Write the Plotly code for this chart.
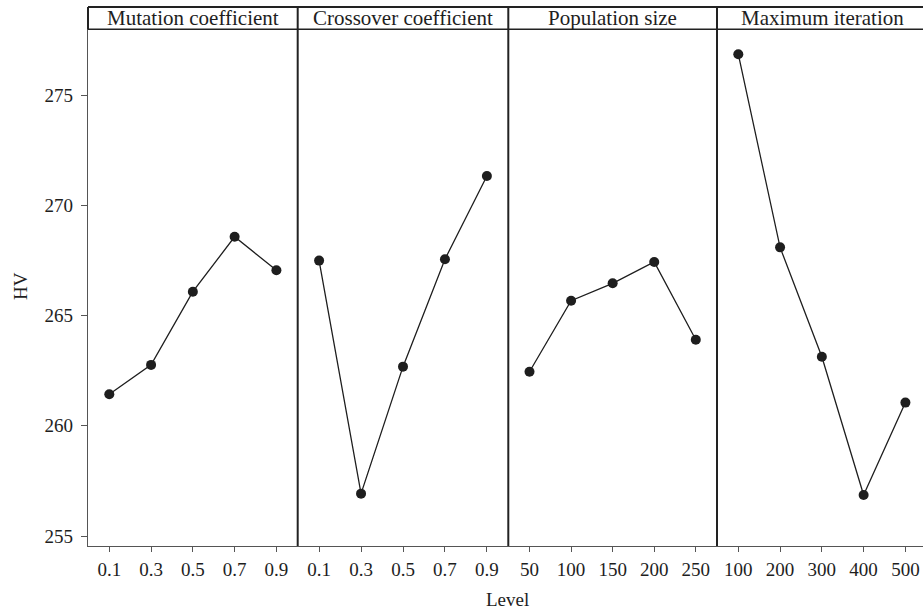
import plotly.graph_objects as go

# ---- data ----
titles = ["Mutation coefficient", "Crossover coefficient", "Population size", "Maximum iteration"]
levels_mut = ["0.1", "0.3", "0.5", "0.7", "0.9"]
hv_mut = [261.43, 262.76, 266.08, 268.57, 267.05]
levels_cross = ["0.1", "0.3", "0.5", "0.7", "0.9"]
hv_cross = [267.49, 256.92, 262.68, 267.55, 271.33]
levels_pop = ["50", "100", "150", "200", "250"]
hv_pop = [262.45, 265.67, 266.46, 267.43, 263.90]
levels_iter = ["100", "200", "300", "400", "500"]
hv_iter = [276.85, 268.09, 263.13, 256.86, 261.05]
y_ticks = [255, 260, 265, 270, 275]

# ---- layout geometry (pixels) ----
W, H = 923, 612
L, R, T, B = 88, 923, 7, 546
STRIP_B = 29.3
edges = [88, 297.7, 508.3, 717, 923]
PAD = 0.51


def px2x(px):
    return (px - L) / (R - L)


def px2y(py):
    return (B - py) / (B - T)


FONT = "Liberation Serif"
INK = "#1e1e1e"
AX = "#555555"

series = [(levels_mut, hv_mut), (levels_cross, hv_cross), (levels_pop, hv_pop), (levels_iter, hv_iter)]

fig = go.Figure()
for i, (lv, hv) in enumerate(series):
    xa = "x" if i == 0 else f"x{i+1}"
    fig.add_trace(go.Scatter(
        x=lv, y=hv, xaxis=xa, yaxis="y", mode="lines+markers",
        line=dict(color=INK, width=1.3),
        marker=dict(color=INK, size=10),
        showlegend=False, hoverinfo="skip"))

y_lo = 255 - (B - 536) / 22.05
y_hi = 275 + (95 - STRIP_B) / 22.05

layout = dict(
    width=W, height=H,
    margin=dict(l=L, r=W - R, t=T, b=H - B, pad=0),
    paper_bgcolor="white", plot_bgcolor="white",
    font=dict(family=FONT, color=INK, size=19),
    yaxis=dict(domain=[0, px2y(STRIP_B)], range=[y_lo, y_hi],
               tickvals=y_ticks, ticks="outside", ticklen=6, tickcolor=AX,
               tickwidth=1.2, showline=True, linecolor=AX, linewidth=1.3,
               showgrid=False, zeroline=False, anchor="x",
               ticklabelstandoff=4,
               tickfont=dict(family=FONT, size=19, color=INK)),
)
for i in range(4):
    key = "xaxis" if i == 0 else f"xaxis{i+1}"
    lo, hi = edges[i], edges[i + 1]
    if i < 3:
        rng = [-PAD, 4 + PAD]
    else:
        unit = (edges[1] - edges[0]) / (4 + 2 * PAD)
        rng = [-PAD, -PAD + (hi - lo) / unit]
    layout[key] = dict(
        domain=[px2x(lo), px2x(hi)], anchor="y", type="category",
        range=rng, ticks="outside", ticklen=5, tickcolor=AX, tickwidth=1.2,
        showline=True, linecolor=AX, linewidth=1.3, showgrid=False,
        zeroline=False, ticklabelstandoff=1,
        tickfont=dict(family=FONT, size=19, color=INK))
fig.update_layout(**layout)

shapes = []
LC = "#222222"
shapes.append(dict(type="line", xref="paper", yref="paper", x0=px2x(L), x1=px2x(R),
                   y0=px2y(T), y1=px2y(T), line=dict(color=LC, width=2)))
shapes.append(dict(type="line", xref="paper", yref="paper", x0=px2x(L), x1=px2x(R),
                   y0=px2y(STRIP_B), y1=px2y(STRIP_B), line=dict(color=LC, width=1.6)))
shapes.append(dict(type="line", xref="paper", yref="paper", x0=px2x(L), x1=px2x(L),
                   y0=px2y(STRIP_B), y1=px2y(T), line=dict(color=LC, width=2)))
for e in edges[1:4]:
    shapes.append(dict(type="line", xref="paper", yref="paper", x0=px2x(e), x1=px2x(e),
                       y0=0, y1=px2y(T), line=dict(color=LC, width=2)))
fig.update_layout(shapes=shapes)

ann = []
for i, t in enumerate(titles):
    cx = (edges[i] + edges[i + 1]) / 2 if i < 3 else 822
    ann.append(dict(text=t, xref="paper", yref="paper", x=px2x(cx), y=px2y(18),
                    xanchor="center", yanchor="middle", showarrow=False,
                    font=dict(family=FONT, size=21, color=INK)))
ann.append(dict(text="Level", xref="paper", yref="paper", x=px2x(507.5), y=px2y(599),
                xanchor="center", yanchor="middle", showarrow=False,
                font=dict(family=FONT, size=19, color=INK)))
ann.append(dict(text="HV", xref="paper", yref="paper", x=px2x(20), y=px2y(286),
                xanchor="center", yanchor="middle", showarrow=False, textangle=-90,
                font=dict(family=FONT, size=19, color=INK)))
fig.update_layout(annotations=ann)

fig.write_html("out.html", config={"displayModeBar": False},
               post_script="document.body.style.margin='0px';document.body.style.overflow='hidden';")
